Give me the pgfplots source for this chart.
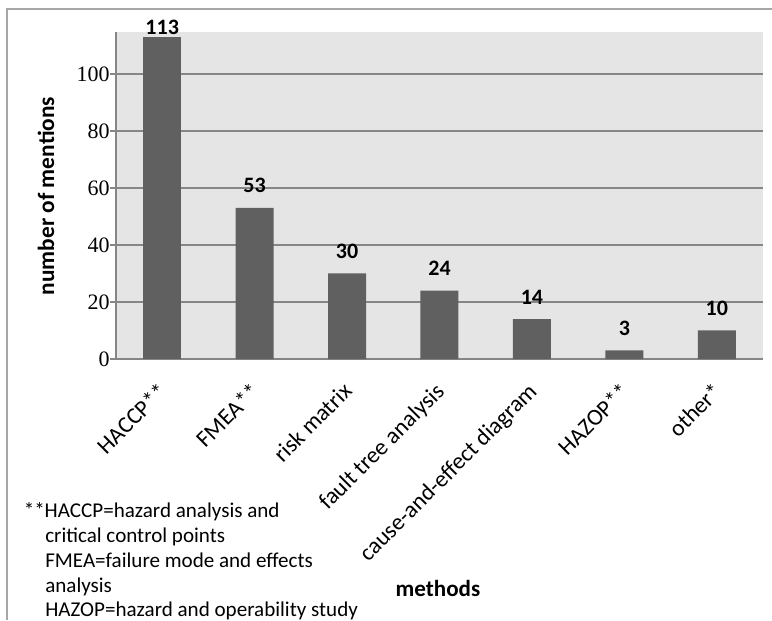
\documentclass[border=0pt]{standalone}
\usepackage{pgfplots}
\pgfplotsset{compat=1.18}
\usepackage{fontspec}
\setmainfont{Carlito}
\newfontfamily\serifnum{Liberation Serif}

\definecolor{plotbg}{RGB}{229,229,229}
\definecolor{barc}{RGB}{96,96,96}
\definecolor{gridc}{RGB}{134,134,134}
\definecolor{framec}{RGB}{166,166,166}

\begin{document}
\begin{tikzpicture}
  \begin{scope}[x=0.75pt,y=0.75pt]
    % page area and outer frame
    \useasboundingbox[fill=white] (0,0) rectangle (772,620);
    \draw[framec, line width=1.1pt] (772,611) -- (7,611) -- (7,0);
  \end{scope}

  \begin{axis}[
    at={(87pt,195.75pt)}, anchor=south west,
    scale only axis, width=485.25pt, height=245.25pt,
    xmin=-0.5, xmax=6.5, ymin=0, ymax=114.7,
    clip=false,
    axis background/.style={fill=plotbg},
    axis x line*=bottom, axis y line*=left,
    axis line style={gridc, line width=0.9pt},
    ybar, bar width=28.5pt, bar shift=0pt,
    ytick={0,20,40,60,80,100},
    ymajorgrids, grid style={gridc, line width=0.9pt},
    tick align=outside, major tick length=4.5pt,
    ytick style={gridc, line width=0.9pt},
    xtick={0,1,2,3,4,5,6},
    xtick style={draw=none},
    xticklabels={HACCP**, FMEA**, risk matrix, fault tree analysis,
                 cause-and-effect diagram, HAZOP**, other*},
    xticklabel style={font=\fontsize{17.5}{20}\selectfont, xshift=-4pt, yshift=-12pt,
                      rotate=45, anchor=north east, inner sep=0pt},
    /pgf/number format/assume math mode=true,
    yticklabel style={font=\serifnum\fontsize{16.5}{19}\selectfont,
                      anchor=east, inner sep=0pt},
    nodes near coords,
    every node near coord/.append style={font=\bfseries\fontsize{16.5}{19}\selectfont,
                      anchor=south, inner sep=0pt, text=black},
  ]
    % top bar: its label sits right on the bar
    \addplot[fill=barc, draw=none,
      every node near coord/.append style={yshift=1.5pt}]
      coordinates {(0,113)};
    \addplot[fill=barc, draw=none,
      every node near coord/.append style={yshift=11pt}]
      coordinates {(1,53) (2,30) (3,24) (4,14) (5,3) (6,10)};
  \end{axis}

  \begin{scope}[x=0.75pt,y=0.75pt]
    % axis titles
    \node[rotate=90, font=\bfseries\fontsize{17.5}{20}\selectfont] at (46,424) {number of mentions};
    \node[anchor=base, font=\bfseries\fontsize{17.3}{20}\selectfont] at (438,23) {methods};

    % abbreviations
    \begin{scope}[every node/.style={anchor=base west, inner sep=0pt, font=\fontsize{15.8}{18}\selectfont}]
      \node at (23.5,102) {**HACCP=hazard analysis and};
      \node at (45,77.25) {critical control points};
      \node at (45,52.5) {FMEA=failure mode and effects};
      \node at (45,27.75) {analysis};
      \node at (45,3) {HAZOP=hazard and operability study};
    \end{scope}
  \end{scope}
\end{tikzpicture}
\end{document}
